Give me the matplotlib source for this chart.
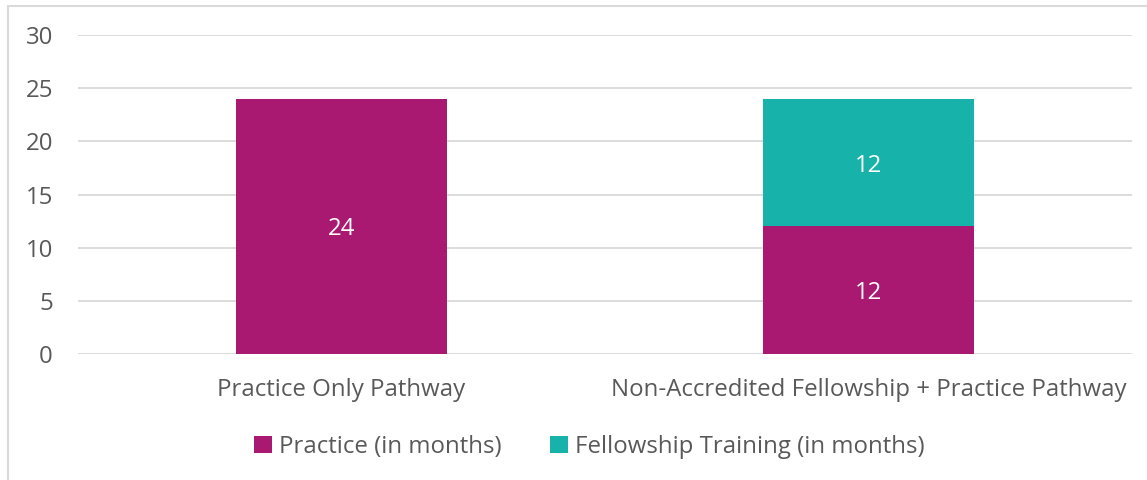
import matplotlib
matplotlib.use("Agg")
import matplotlib.pyplot as plt
from matplotlib.patches import Rectangle
import numpy as np

plt.rcParams['font.family'] = ['Open Sans', 'DejaVu Sans']

categories = ["Practice Only Pathway", "Non-Accredited Fellowship + Practice Pathway"]
practice = [24, 12]
fellowship = [0, 12]
series_names = ["Practice (in months)", "Fellowship Training (in months)"]
colors = ["#A91871", "#17B2AA"]
text_color = "#595959"
grid_color = "#D9D9D9"
fs = 17.3

fig = plt.figure(figsize=(11.47, 4.80), dpi=100)
W, H = 1147, 480
ax = fig.add_axes([78 / W, 1 - 354 / H, (1132 - 78) / W, (354 - 35) / H])

x = np.arange(len(categories))
width = 0.4
b1 = ax.bar(x, practice, width, color=colors[0], label=series_names[0], zorder=3)
b2 = ax.bar(x, fellowship, width, bottom=practice, color=colors[1], label=series_names[1], zorder=3)

for i in range(len(categories)):
    if practice[i] > 0:
        ax.text(x[i], practice[i] / 2, f"{practice[i]}", ha="center", va="center_baseline",
                color="white", fontsize=fs)
    if fellowship[i] > 0:
        ax.text(x[i], practice[i] + fellowship[i] / 2, f"{fellowship[i]}", ha="center",
                va="center_baseline", color="white", fontsize=fs)

ax.set_xlim(-0.5, 1.5)
ax.set_ylim(0, 30)
ax.set_yticks(range(0, 31, 5))
ax.set_xticks(x)
ax.set_xticklabels(categories)
ax.tick_params(axis="both", length=0, labelsize=fs, colors=text_color)
ax.tick_params(axis="y", pad=18)
ax.tick_params(axis="x", pad=17)
ax.grid(axis="y", color=grid_color, linewidth=1.3, zorder=0)
for s in ax.spines.values():
    s.set_visible(False)

leg = fig.legend(handles=[b1, b2], labels=series_names, loc="center",
                 bbox_to_anchor=(589 / W, 1 - 447 / H), ncol=2, frameon=False,
                 fontsize=fs, handlelength=0.75, handleheight=0.75, handletextpad=0.3,
                 columnspacing=2.0, labelcolor=text_color)

# outer chart border (partial, as in reference)
fig.add_artist(Rectangle((8 / W, -0.1), 1.2, 1 - 6 / H + 0.1, transform=fig.transFigure,
                         fill=False, edgecolor="#D9D9D9", linewidth=1.5))

fig.savefig("out.png", dpi=100)
